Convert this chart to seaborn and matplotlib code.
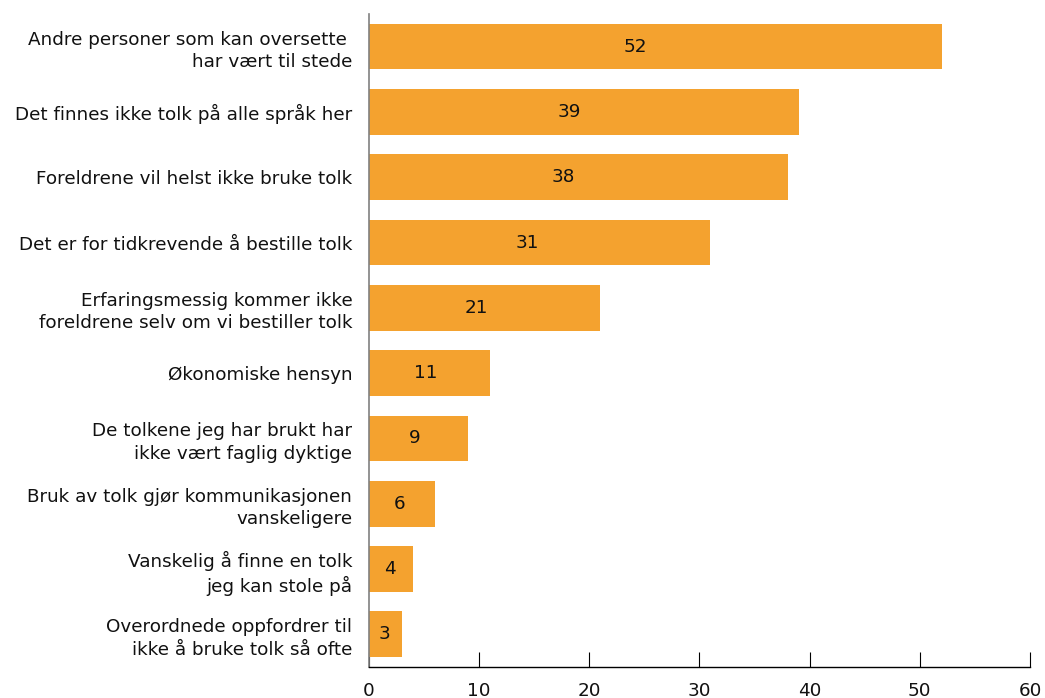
import matplotlib
matplotlib.use("Agg")
import matplotlib.pyplot as plt
import seaborn as sns
import pandas as pd

# Reasons given for not using an interpreter (percent)
reasons = [
    "Andre personer som kan oversette \nhar vært til stede",
    "Det finnes ikke tolk på alle språk her",
    "Foreldrene vil helst ikke bruke tolk",
    "Det er for tidkrevende å bestille tolk",
    "Erfaringsmessig kommer ikke\nforeldrene selv om vi bestiller tolk",
    "Økonomiske hensyn",
    "De tolkene jeg har brukt har\nikke vært faglig dyktige",
    "Bruk av tolk gjør kommunikasjonen\nvanskeligere",
    "Vanskelig å finne en tolk\njeg kan stole på",
    "Overordnede oppfordrer til\nikke å bruke tolk så ofte",
]
percent = [52, 39, 38, 31, 21, 11, 9, 6, 4, 3]
xticks = [0, 10, 20, 30, 40, 50, 60]

df = pd.DataFrame({"reason": reasons, "percent": percent})

sns.set_theme(style="white")
plt.rcParams["font.family"] = ["DejaVu Sans"]

FS = 13.2

fig = plt.figure(figsize=(10.45, 6.98), dpi=100)
ax = fig.add_axes([0.3531, 0.0444, 0.6325, 0.9356])

sns.barplot(data=df, x="percent", y="reason", orient="h", color="#F4A22F",
            width=0.7, saturation=1, linewidth=0, ax=ax)

for i, v in enumerate(percent):
    ax.text(v * 0.465, i, str(v), ha="center", va="center",
            fontsize=FS, color="#111111")

ax.set_xlim(0, 60)
ax.set_ylim(9.5, -0.5)
ax.set_xticks(xticks)
ax.set_xlabel("")
ax.set_ylabel("")

for s in ["top", "right"]:
    ax.spines[s].set_visible(False)
ax.spines["left"].set_color("#808080")
ax.spines["left"].set_linewidth(1.2)
ax.spines["bottom"].set_color("#000000")
ax.spines["bottom"].set_linewidth(1.0)

ax.tick_params(axis="x", direction="in", length=11, width=0.8, color="#000000",
               pad=10.5, labelsize=FS, labelcolor="#111111", bottom=True)
ax.tick_params(axis="y", length=0, pad=12, labelsize=FS, labelcolor="#111111")
for lbl in ax.get_yticklabels():
    lbl.set_multialignment("right")
    lbl.set_linespacing(1.3)

fig.savefig("out.png", dpi=100)
